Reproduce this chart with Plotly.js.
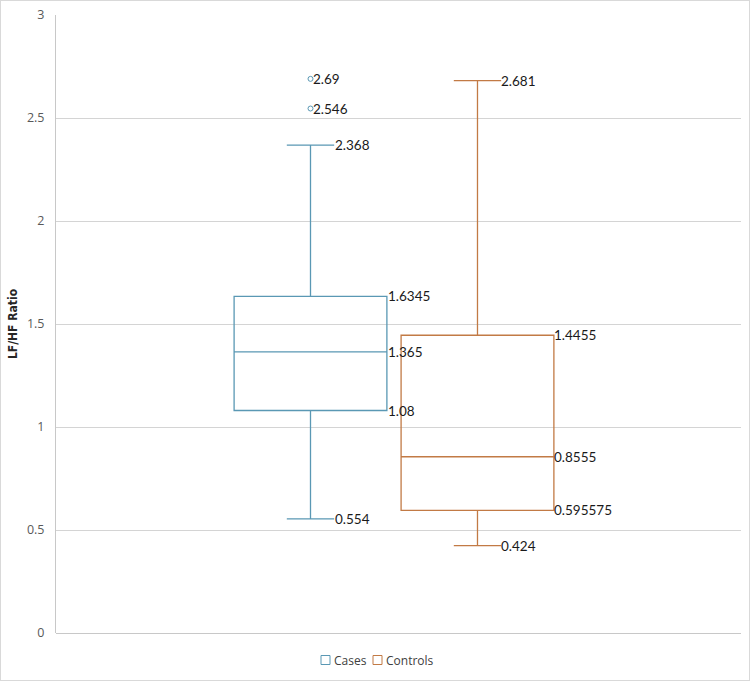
<!DOCTYPE html>
<html>
<head>
<meta charset="utf-8">
<script src="https://cdn.plot.ly/plotly-3.0.1.min.js"></script>
<style>
  html, body { margin: 0; padding: 0; background: #fff; }
  #wrap { position: relative; width: 750px; height: 681px; }
  #chart { width: 750px; height: 681px; }
  #frame { position: absolute; left: 0; top: 0; width: 748px; height: 679px; border: 1px solid #d9d9d9; pointer-events: none; }
</style>
</head>
<body>
<div id="wrap"><div id="chart"></div><div id="frame"></div></div>
<script>
// ---- data ----
const categories = ["Cases", "Controls"];
const lowerWhisker = [0.554, 0.424];
const q1Values = [1.08, 0.595575];
const medianValues = [1.365, 0.8555];
const q3Values = [1.6345, 1.4455];
const upperWhisker = [2.368, 2.681];
const outlierValues = [[2.546, 2.69], []];
const seriesColors = ["#5a98b4", "#c27a45"];

// ---- geometry helpers (layout only) ----
const W = 750, H = 681;
const M = { l: 56, r: 9, t: 15, b: 48 };
const PW = W - M.l - M.r, PH = H - M.t - M.b;
const px = x => (x - M.l) / PW;
const py = y => (H - M.b - y) / PH;

// ---- traces ----
const traces = [];
categories.forEach((name, i) => {
  traces.push({
    type: "box",
    name: name,
    x: [i],
    q1: [q1Values[i]],
    median: [medianValues[i]],
    q3: [q3Values[i]],
    lowerfence: [lowerWhisker[i]],
    upperfence: [upperWhisker[i]],
    width: 0.915,
    whiskerwidth: 0.31,
    boxpoints: false,
    fillcolor: "rgba(255,255,255,0)",
    line: { color: seriesColors[i], width: 1.3 },
    showlegend: false,
    hoverinfo: "skip"
  });
  if (outlierValues[i].length) {
    traces.push({
      type: "scatter",
      mode: "markers",
      x: outlierValues[i].map(() => i),
      y: outlierValues[i],
      marker: { symbol: "circle-open", size: 5, color: seriesColors[i], line: { width: 1, color: seriesColors[i] } },
      showlegend: false,
      hoverinfo: "skip"
    });
  }
});

// ---- data labels ----
const annotations = [];
function addLabel(i, v, shift) {
  annotations.push({
    x: i, y: v, xref: "x", yref: "y",
    text: String(v),
    showarrow: false,
    xanchor: "left", yanchor: "middle",
    xshift: shift,
    font: { family: "Lato, 'Open Sans', sans-serif", size: 13.5, color: "#1a1a1a" }
  });
}
categories.forEach((name, i) => {
  addLabel(i, upperWhisker[i], 22);
  addLabel(i, lowerWhisker[i], 22);
  addLabel(i, q3Values[i], 75);
  addLabel(i, medianValues[i], 75);
  addLabel(i, q1Values[i], 75);
  outlierValues[i].forEach(v => addLabel(i, v, 0));
});

// ---- legend (drawn manually, Excel style) ----
const shapes = [];
const legendY = 660;
const legendItems = [
  { sx: 321, tx: 332 },
  { sx: 373, tx: 384 }
];
categories.forEach((name, i) => {
  const it = legendItems[i];
  shapes.push({
    type: "rect", xref: "paper", yref: "paper",
    x0: px(it.sx), x1: px(it.sx + 9),
    y0: py(legendY - 4.5), y1: py(legendY + 4.5),
    line: { color: seriesColors[i], width: 1 },
    fillcolor: "rgba(0,0,0,0)"
  });
  annotations.push({
    xref: "paper", yref: "paper",
    x: px(it.tx), y: py(legendY),
    xanchor: "left", yanchor: "middle",
    showarrow: false,
    text: name,
    font: { family: "'Open Sans', sans-serif", size: 12, color: "#404040" }
  });
});

const layout = {
  width: W, height: H,
  margin: M,
  paper_bgcolor: "#ffffff",
  plot_bgcolor: "#ffffff",
  showlegend: false,
  xaxis: {
    type: "linear",
    range: [-1.524, 2.578],
    showticklabels: false,
    showgrid: false,
    zeroline: false,
    showline: false,
    ticks: ""
  },
  yaxis: {
    range: [0, 3],
    dtick: 0.5,
    showgrid: true,
    gridcolor: "#d4d4d4",
    gridwidth: 1,
    zeroline: true,
    zerolinecolor: "#c8c8c8",
    zerolinewidth: 1,
    showline: true,
    linecolor: "#c8c8c8",
    linewidth: 1,
    ticks: "",
    ticklabelstandoff: 8,
    tickfont: { family: "'Open Sans', sans-serif", size: 12.5, color: "#595959" },
    title: {
      text: "LF/HF Ratio",
      standoff: 6,
      font: { family: "'DejaVu Sans Condensed', 'Liberation Sans Narrow', Roboto, sans-serif", size: 12, color: "#262626", weight: "bold" }
    }
  },
  shapes: shapes,
  annotations: annotations
};

Plotly.newPlot("chart", traces, layout, { displayModeBar: false, staticPlot: true });
</script>
</body>
</html>
